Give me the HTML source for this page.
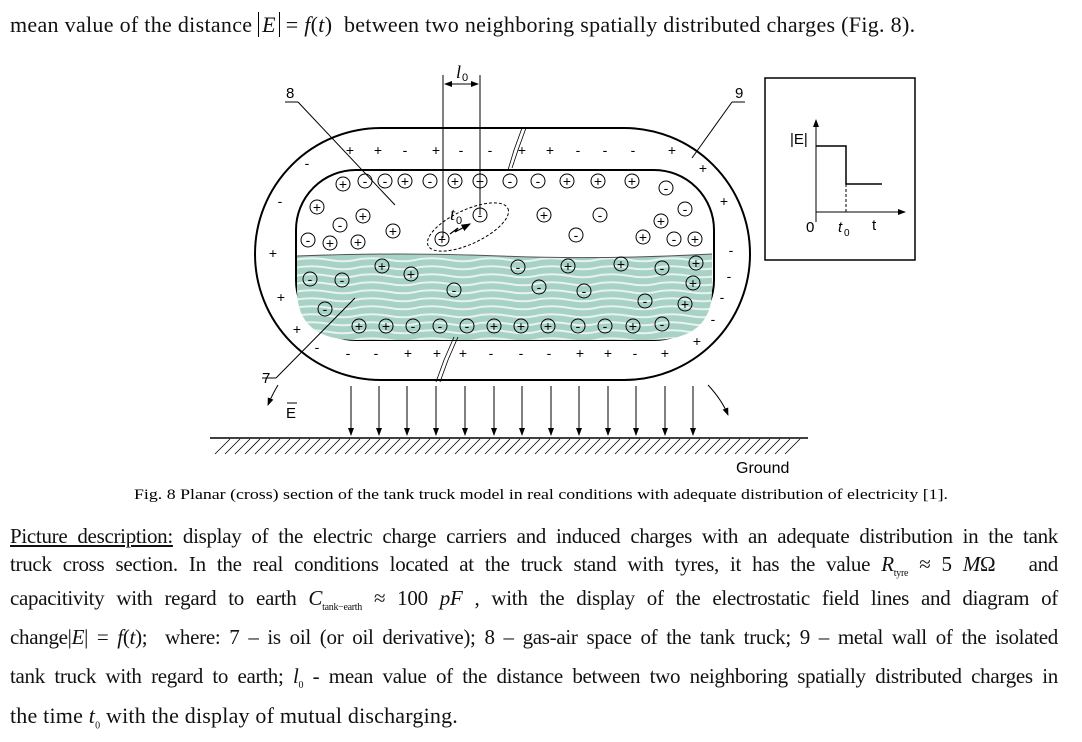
<!DOCTYPE html>
<html><head><meta charset="utf-8"><style>
body{margin:0;width:1082px;height:742px;background:#fff;position:relative;overflow:hidden;font-family:"Liberation Serif",serif;color:#111}
.l{position:absolute;left:10px;width:1048px;font-size:21px;white-space:nowrap;text-align:justify;text-align-last:justify;letter-spacing:-0.3px}
svg{position:absolute;left:0;top:0}
</style></head><body>
<div style="position:absolute;left:10px;top:12px;font-size:22px;letter-spacing:0.3px;white-space:nowrap">mean value of the distance <span style="border-left:1px solid #000;border-right:1px solid #000;padding:0 3px;font-style:italic">E</span> = <i>f</i>(<i>t</i>)&nbsp; between two neighboring spatially distributed charges (Fig. 8).</div>
<svg width="1082" height="742" font-family="Liberation Sans,sans-serif">
<defs><pattern id="w" width="60" height="8" patternUnits="userSpaceOnUse"><rect width="60" height="8" fill="#a9d2c6"/><path d="M0 3 Q15 1 30 4 T60 3" stroke="#e6f3ef" stroke-width="2" fill="none"/></pattern>
<marker id="a" markerWidth="8" markerHeight="8" refX="7" refY="4" orient="auto"><path d="M0 1 L8 4 L0 7z" fill="#000"/></marker></defs>
<rect x="255" y="128" width="495" height="252" rx="126" fill="none" stroke="#000" stroke-width="2"/>
<rect x="296" y="170" width="418" height="170" rx="60" fill="none" stroke="#000" stroke-width="2"/>
<path d="M297 256 Q400 252 500 256 T712 254 L712 290 Q712 340 652 340 L356 340 Q297 340 297 290Z" fill="url(#w)"/>
<path d="M297 256 Q400 252 500 256 T712 254" stroke="#555" fill="none"/>
<g font-size="14" text-anchor="middle">
<text x="350" y="155">+</text><text x="378" y="155">+</text><text x="405" y="155">-</text><text x="436" y="155">+</text><text x="461" y="155">-</text><text x="490" y="155">-</text><text x="522" y="155">+</text><text x="550" y="155">+</text><text x="578" y="155">-</text><text x="605" y="155">-</text><text x="633" y="155">-</text><text x="672" y="155">+</text>
<text x="307" y="168">-</text><text x="703" y="173">+</text><text x="280" y="206">-</text><text x="724" y="206">+</text><text x="273" y="258">+</text><text x="731" y="255">-</text><text x="281" y="302">+</text><text x="729" y="281">-</text><text x="297" y="334">+</text><text x="722" y="302">-</text><text x="317" y="352">-</text><text x="713" y="324">-</text><text x="697" y="346">+</text>
<text x="348" y="358">-</text><text x="376" y="358">-</text><text x="408" y="358">+</text><text x="437" y="358">+</text><text x="463" y="358">+</text><text x="491" y="358">-</text><text x="521" y="358">-</text><text x="549" y="358">-</text><text x="580" y="358">+</text><text x="608" y="358">+</text><text x="635" y="358">-</text><text x="665" y="358">+</text>
</g>
<g font-size="14" text-anchor="middle" stroke="#000" stroke-width="1">
<g fill="none">
<circle cx="343" cy="184" r="7"/><circle cx="365" cy="181" r="7"/><circle cx="385" cy="181" r="7"/><circle cx="405" cy="181" r="7"/><circle cx="430" cy="181" r="7"/><circle cx="455" cy="181" r="7"/><circle cx="480" cy="181" r="7"/><circle cx="510" cy="181" r="7"/><circle cx="538" cy="181" r="7"/><circle cx="567" cy="181" r="7"/><circle cx="598" cy="181" r="7"/><circle cx="632" cy="181" r="7"/>
<circle cx="317" cy="207" r="7"/><circle cx="340" cy="225" r="7"/><circle cx="363" cy="216" r="7"/><circle cx="393" cy="231" r="7"/><circle cx="308" cy="240" r="7"/><circle cx="330" cy="243" r="7"/><circle cx="358" cy="242" r="7"/>
<circle cx="442" cy="239" r="7"/><circle cx="480" cy="215" r="7"/><circle cx="544" cy="215" r="7"/><circle cx="600" cy="215" r="7"/><circle cx="576" cy="235" r="7"/><circle cx="666" cy="188" r="7"/><circle cx="685" cy="209" r="7"/><circle cx="661" cy="221" r="7"/><circle cx="643" cy="237" r="7"/><circle cx="674" cy="239" r="7"/><circle cx="695" cy="239" r="7"/>
<circle cx="382" cy="266" r="7"/><circle cx="411" cy="274" r="7"/><circle cx="310" cy="279" r="7"/><circle cx="342" cy="280" r="7"/><circle cx="454" cy="290" r="7"/><circle cx="518" cy="267" r="7"/><circle cx="568" cy="266" r="7"/><circle cx="621" cy="264" r="7"/><circle cx="662" cy="268" r="7"/><circle cx="696" cy="263" r="7"/><circle cx="539" cy="287" r="7"/><circle cx="584" cy="291" r="7"/><circle cx="693" cy="283" r="7"/><circle cx="645" cy="301" r="7"/><circle cx="685" cy="304" r="7"/><circle cx="325" cy="309" r="7"/>
<circle cx="359" cy="326" r="7"/><circle cx="386" cy="326" r="7"/><circle cx="413" cy="326" r="7"/><circle cx="440" cy="326" r="7"/><circle cx="467" cy="326" r="7"/><circle cx="494" cy="326" r="7"/><circle cx="521" cy="326" r="7"/><circle cx="548" cy="326" r="7"/><circle cx="578" cy="326" r="7"/><circle cx="605" cy="326" r="7"/><circle cx="633" cy="326" r="7"/><circle cx="662" cy="324" r="7"/>
<ellipse cx="468" cy="227" rx="44" ry="17" transform="rotate(-25 468 227)" stroke-dasharray="3 2"/>
</g>
<g stroke="none" fill="#000">
<text x="343" y="189">+</text><text x="365" y="186">-</text><text x="385" y="186">-</text><text x="405" y="186">+</text><text x="430" y="186">-</text><text x="455" y="186">+</text><text x="480" y="186">+</text><text x="510" y="186">-</text><text x="538" y="186">-</text><text x="567" y="186">+</text><text x="598" y="186">+</text><text x="632" y="186">+</text>
<text x="317" y="212">+</text><text x="340" y="230">-</text><text x="363" y="221">+</text><text x="393" y="236">+</text><text x="308" y="245">-</text><text x="330" y="248">+</text><text x="358" y="247">+</text>
<text x="442" y="244">+</text><text x="480" y="220">-</text><text x="544" y="220">+</text><text x="600" y="220">-</text><text x="576" y="240">-</text><text x="666" y="193">-</text><text x="685" y="214">-</text><text x="661" y="226">+</text><text x="643" y="242">+</text><text x="674" y="244">-</text><text x="695" y="244">+</text>
<text x="382" y="271">+</text><text x="411" y="279">+</text><text x="310" y="284">-</text><text x="342" y="285">-</text><text x="454" y="295">-</text><text x="518" y="272">-</text><text x="568" y="271">+</text><text x="621" y="269">+</text><text x="662" y="273">-</text><text x="696" y="268">+</text><text x="539" y="292">-</text><text x="584" y="296">-</text><text x="693" y="288">+</text><text x="645" y="306">-</text><text x="685" y="309">+</text><text x="325" y="314">-</text>
<text x="359" y="331">+</text><text x="386" y="331">+</text><text x="413" y="331">-</text><text x="440" y="331">-</text><text x="467" y="331">-</text><text x="494" y="331">+</text><text x="521" y="331">+</text><text x="548" y="331">+</text><text x="578" y="331">-</text><text x="605" y="331">-</text><text x="633" y="331">+</text><text x="662" y="329">-</text>
</g></g>
<g stroke="#000" fill="none">
<line x1="443" y1="75" x2="443" y2="238"/><line x1="480" y1="75" x2="480" y2="215"/>
<line x1="445" y1="84" x2="478" y2="84" marker-end="url(#a)"/><line x1="478" y1="84" x2="445" y2="84" marker-end="url(#a)"/>
<path d="M526 128 L518 150 L512 168 M522 128 L514 150 L508 170" stroke-width="0.8"/>
<path d="M458 337 L448 360 L440 382 M454 337 L444 360 L436 382" stroke-width="0.8"/>
<path d="M450 234 L458 228 L455 232 L470 224" stroke-width="1.2" marker-end="url(#a)"/>
<line x1="285" y1="102" x2="298" y2="102"/><line x1="298" y1="102" x2="395" y2="205"/>
<line x1="732" y1="102" x2="745" y2="102"/><line x1="732" y1="102" x2="692" y2="158"/>
<line x1="262" y1="378" x2="276" y2="378"/><line x1="276" y1="378" x2="355" y2="298"/>
<path d="M278 385 Q272 395 268 405" marker-end="url(#a)"/>
<path d="M708 385 Q722 400 728 415" marker-end="url(#a)"/>
<g marker-end="url(#a)">
<line x1="351" y1="386" x2="351" y2="435"/><line x1="379" y1="386" x2="379" y2="435"/><line x1="407" y1="386" x2="407" y2="435"/><line x1="436" y1="386" x2="436" y2="435"/><line x1="465" y1="386" x2="465" y2="435"/><line x1="494" y1="386" x2="494" y2="435"/><line x1="522" y1="386" x2="522" y2="435"/><line x1="551" y1="386" x2="551" y2="435"/><line x1="579" y1="386" x2="579" y2="435"/><line x1="608" y1="386" x2="608" y2="435"/><line x1="636" y1="386" x2="636" y2="435"/><line x1="665" y1="386" x2="665" y2="435"/><line x1="693" y1="386" x2="693" y2="435"/>
</g>
<line x1="210" y1="438" x2="808" y2="438" stroke-width="1.5"/>
<path d="M215 454 L230 439 M225 454 L240 439 M235 454 L250 439 M245 454 L260 439 M255 454 L270 439 M265 454 L280 439 M275 454 L290 439 M285 454 L300 439 M295 454 L310 439 M305 454 L320 439 M315 454 L330 439 M325 454 L340 439 M335 454 L350 439 M345 454 L360 439 M355 454 L370 439 M365 454 L380 439 M375 454 L390 439 M385 454 L400 439 M395 454 L410 439 M405 454 L420 439 M415 454 L430 439 M425 454 L440 439 M435 454 L450 439 M445 454 L460 439 M455 454 L470 439 M465 454 L480 439 M475 454 L490 439 M485 454 L500 439 M495 454 L510 439 M505 454 L520 439 M515 454 L530 439 M525 454 L540 439 M535 454 L550 439 M545 454 L560 439 M555 454 L570 439 M565 454 L580 439 M575 454 L590 439 M585 454 L600 439 M595 454 L610 439 M605 454 L620 439 M615 454 L630 439 M625 454 L640 439 M635 454 L650 439 M645 454 L660 439 M655 454 L670 439 M665 454 L680 439 M675 454 L690 439 M685 454 L700 439 M695 454 L710 439 M705 454 L720 439 M715 454 L730 439 M725 454 L740 439 M735 454 L750 439 M745 454 L760 439 M755 454 L770 439 M765 454 L780 439 M775 454 L790 439 M785 454 L800 439" stroke-width="0.8"/>
<rect x="765" y="78" width="150" height="182" stroke-width="1.5"/>
<line x1="816" y1="222" x2="816" y2="120" marker-end="url(#a)"/><line x1="816" y1="212" x2="905" y2="212" marker-end="url(#a)"/>
<path d="M816 146 L846 146 L846 184 L882 184" stroke-width="1.5"/>
<line x1="846" y1="184" x2="846" y2="212" stroke-dasharray="3 2"/>
</g>
<g font-size="15" fill="#000">
<text x="286" y="98">8</text><text x="735" y="98">9</text><text x="262" y="383">7</text>
<text x="286" y="418">E</text><text x="736" y="473" font-size="16">Ground</text>
<text x="456" y="78" font-style="italic" font-family="Liberation Serif" font-size="18">l</text><text x="462" y="81" font-size="11">0</text>
<text x="450" y="220" font-style="italic" font-family="Liberation Serif" font-size="18">t</text><text x="456" y="224" font-size="11">0</text>
<text x="790" y="144">|E|</text><text x="806" y="232">0</text><text x="838" y="232" font-style="italic">t</text><text x="844" y="236" font-size="10">0</text><text x="872" y="230">t</text>
</g>
<line x1="287" y1="403" x2="297" y2="403" stroke="#000"/>
<text x="134" y="499" font-size="14.5" font-family="Liberation Serif" textLength="814" lengthAdjust="spacingAndGlyphs">Fig. 8  Planar (cross) section of the tank truck model in real conditions with adequate distribution of electricity [1].</text>
</svg>
<div class="l" style="top:524px"><u>Picture description:</u> display of the electric charge carriers and induced charges with an adequate distribution in the tank</div>
<div class="l" style="top:552px">truck cross section. In the real conditions located at the truck stand with tyres, it has the value <i>R</i><sub style="font-size:10px">tyre</sub> ≈ 5 <i>M</i>Ω &nbsp; and</div>
<div class="l" style="top:586px">capacitivity with regard to earth <i>C</i><sub style="font-size:10px">tank−earth</sub> ≈ 100 <i>pF</i> , with the display of the electrostatic field lines and diagram of</div>
<div class="l" style="top:625px">change|<i>E</i>| = <i>f</i>(<i>t</i>);&nbsp; where: 7 – is oil (or oil derivative); 8 – gas-air space of the tank truck; 9 – metal wall of the isolated</div>
<div class="l" style="top:664px">tank truck with regard to earth; <i>l</i><sub style="font-size:10px">0</sub> - mean value of the distance between two neighboring spatially distributed charges in</div>
<div style="position:absolute;left:10px;top:703px;font-size:22px;letter-spacing:0.2px;white-space:nowrap">the time <i>t</i><sub style="font-size:10px">0</sub> with the display of mutual discharging.</div>
</body></html>
